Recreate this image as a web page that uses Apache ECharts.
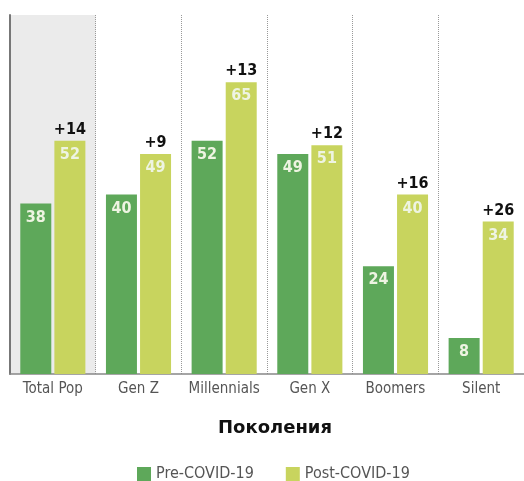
<!DOCTYPE html>
<html>
<head>
<meta charset="utf-8">
<script src="https://cdn.jsdelivr.net/npm/echarts@6/dist/echarts.min.js"></script>
<style>
  html, body { margin: 0; padding: 0; background: #fff; }
  #chart { width: 524px; height: 481px; }
</style>
</head>
<body>
<div id="chart"></div>
<script>
// Generations and the share before / after COVID-19
const generations = ['Total Pop', 'Gen Z', 'Millennials', 'Gen X', 'Boomers', 'Silent'];
const preCovid = [38, 40, 52, 49, 24, 8];
const postCovid = [52, 49, 65, 51, 40, 34];
const gains = ['+14', '+9', '+13', '+12', '+16', '+26'];

const narrow = '"Liberation Sans Narrow", "DejaVu Sans Condensed", sans-serif';
const PRE_COLOR = '#5ea85a';
const POST_COLOR = '#c8d45e';
const BAR_W = 31;

const insideLabel = {
  show: true,
  position: 'insideTop',
  distance: 6,
  color: '#eef4e2',
  fontFamily: narrow,
  fontWeight: 'bold',
  fontSize: 16
};

const chart = echarts.init(document.getElementById('chart'), null, { renderer: 'canvas' });
chart.setOption({
  animation: false,
  backgroundColor: '#fff',
  title: {
    text: 'Поколения',
    left: 213,
    top: 414,
    textStyle: { fontFamily: 'DejaVu Sans', fontWeight: 'bold', fontSize: 18, color: '#111' }
  },
  legend: {
    top: 461,
    left: 132,
    itemWidth: 14,
    itemHeight: 14,
    itemGap: 32,
    icon: 'rect',
    data: ['Pre-COVID-19', 'Post-COVID-19'],
    textStyle: { fontFamily: narrow, fontSize: 16, color: '#555' }
  },
  grid: { left: 10, right: 0, top: 15, bottom: 107, containLabel: false },
  xAxis: [
    {
      type: 'category',
      data: generations,
      axisLine: { show: true, lineStyle: { color: '#888', width: 1.5 } },
      axisTick: { show: false },
      axisLabel: { interval: 0, fontFamily: narrow, fontSize: 15, color: '#555', margin: 8 },
      splitLine: { show: true, interval: 0, lineStyle: { color: '#999', type: 'dotted', width: 1 } },
      splitArea: {
        show: true,
        interval: 0,
        areaStyle: { color: ['#ebebeb', 'rgba(0,0,0,0)', 'rgba(0,0,0,0)', 'rgba(0,0,0,0)', 'rgba(0,0,0,0)', 'rgba(0,0,0,0)'] }
      }
    },
    {
      // twin axis carrying the gain labels above the post-COVID bars
      type: 'category',
      data: generations,
      show: false
    }
  ],
  yAxis: {
    type: 'value',
    min: 0,
    max: 80,
    axisLine: { show: true, lineStyle: { color: '#777', width: 2 } },
    axisTick: { show: false },
    axisLabel: { show: false },
    splitLine: { show: false }
  },
  series: [
    {
      name: 'Pre-COVID-19',
      type: 'bar',
      data: preCovid,
      barWidth: BAR_W,
      barGap: '10%',
      itemStyle: { color: PRE_COLOR },
      label: insideLabel,
      z: 3
    },
    {
      name: 'Post-COVID-19',
      type: 'bar',
      data: postCovid,
      barWidth: BAR_W,
      barGap: '10%',
      itemStyle: { color: POST_COLOR },
      label: insideLabel,
      z: 3
    },
    {
      name: 'spacer',
      type: 'bar',
      xAxisIndex: 1,
      data: preCovid,
      barWidth: BAR_W,
      barGap: '10%',
      itemStyle: { color: 'rgba(0,0,0,0)' },
      silent: true,
      z: 1
    },
    {
      name: 'gain',
      type: 'bar',
      xAxisIndex: 1,
      data: postCovid,
      barWidth: BAR_W,
      barGap: '10%',
      itemStyle: { color: 'rgba(0,0,0,0)' },
      silent: true,
      z: 4,
      label: {
        show: true,
        position: 'top',
        distance: 3,
        formatter: p => gains[p.dataIndex],
        color: '#111',
        fontFamily: narrow,
        fontWeight: 'bold',
        fontSize: 16
      }
    }
  ]
});
</script>
</body>
</html>
